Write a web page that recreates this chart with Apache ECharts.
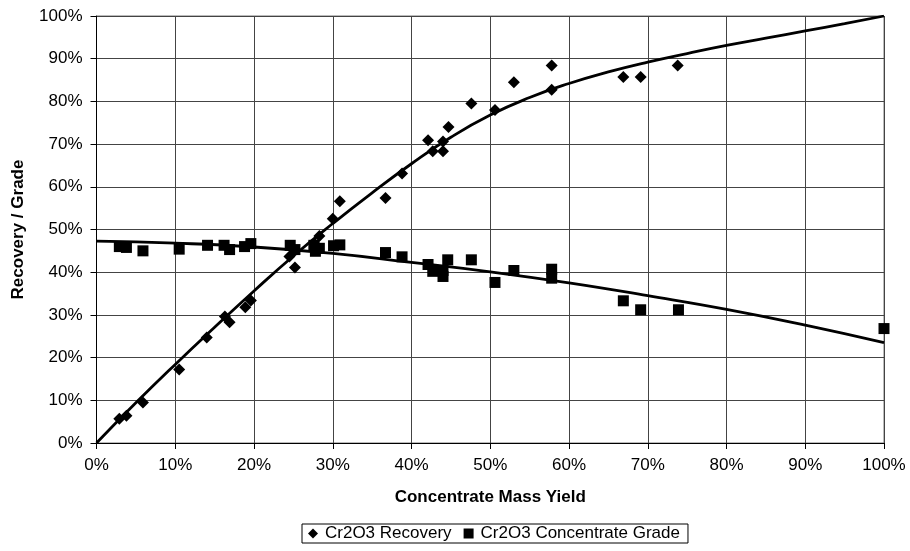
<!DOCTYPE html>
<html>
<head>
<meta charset="utf-8">
<script src="https://cdn.jsdelivr.net/npm/echarts@6/dist/echarts.min.js"></script>
<style>
  html, body { margin: 0; padding: 0; background: #fff; }
  #chart { width: 910px; height: 551px; }
</style>
</head>
<body>
<div id="chart"></div>
<script>
// Cr2O3 recovery samples (mass yield %, recovery %)
const recoveryX = [2.9, 3.8, 5.9, 10.5, 14.0, 16.3, 16.9, 18.9, 19.6, 24.5, 25.2, 27.8, 28.3, 30.0, 30.9,
  36.7, 38.8, 42.1, 42.7, 44.0, 44.0, 44.7, 47.6, 50.6, 53.0, 57.8, 57.8, 66.9, 69.1, 73.8]
const recoveryY = [5.7, 6.4, 9.5, 17.2, 24.7, 29.6, 28.3, 31.8, 33.4, 43.7, 41.1, 46.5, 48.5, 52.5, 56.6,
  57.4, 63.1, 70.9, 68.3, 70.6, 68.3, 74.0, 79.5, 78.0, 84.5, 88.4, 82.7, 85.7, 85.7, 88.4]

// Cr2O3 concentrate grade samples (mass yield %, grade %)
const gradeX = [2.9, 3.8, 5.9, 10.5, 14.1, 16.2, 16.9, 18.8, 19.6, 24.6, 25.2, 27.6, 27.8, 28.3, 30.1, 30.9,
  36.7, 38.8, 42.1, 42.7, 44.0, 44.0, 44.6, 47.6, 50.6, 53.0, 57.8, 57.8, 66.9, 69.1, 73.9, 100]
const gradeY = [46.0, 45.8, 45.0, 45.4, 46.3, 46.3, 45.3, 46.0, 46.7, 46.3, 45.3, 46.3, 44.9, 45.6, 46.2, 46.4,
  44.6, 43.6, 41.8, 40.2, 39.0, 40.4, 42.9, 42.9, 37.6, 40.4, 40.7, 38.6, 33.3, 31.2, 31.2, 26.8]

// trend lines
const recTrendX = [0, 5, 10, 15, 20, 25, 30, 35, 40, 45, 50, 55, 60, 65, 70, 75, 80, 85, 90, 95, 100]
const recTrendY = [0, 9.4, 18.4, 27.1, 35.6, 43.8, 51.4, 58.6, 65.4, 71.6, 76.8, 80.9, 84.2, 86.9, 89.2, 91.2, 93.1, 94.8, 96.5, 98.2, 100]
const gradeTrendX = [0, 10, 20, 30, 40, 50, 60, 70, 80, 90, 100]
const gradeTrendY = [47.3, 46.8, 45.9, 44.4, 42.3, 40.1, 37.5, 34.5, 31.3, 27.6, 23.5]

const xTicks = ['0%', '10%', '20%', '30%', '40%', '50%', '60%', '70%', '80%', '90%', '100%']

function pairs (xs, ys) {
  return xs.map((x, i) => [x, ys[i]])
}

const font = 'Liberation Sans, Arial, sans-serif'
let myChart = echarts.init(document.getElementById('chart'))
myChart.setOption({
  backgroundColor: '#fff',
  animation: false,
  grid: {
    left: 96.5,
    right: 26,
    top: 16,
    bottom: 108,
    show: true,
    borderColor: '#777',
    borderWidth: 1
  },
  legend: {
    data: [
      { name: 'Cr2O3 Recovery', icon: 'diamond' },
      { name: 'Cr2O3 Concentrate Grade', icon: 'rect' }
    ],
    left: 302,
    top: 524,
    itemWidth: 10,
    itemHeight: 10,
    itemGap: 12,
    padding: [1, 8, 1, 6],
    borderColor: '#000',
    borderWidth: 1,
    borderRadius: 0,
    textStyle: { color: '#000', fontSize: 17, fontFamily: font, padding: [0, 0, 0, 2] }
  },
  xAxis: {
    type: 'value',
    min: 0,
    max: 100,
    interval: 10,
    name: 'Concentrate Mass Yield',
    nameLocation: 'middle',
    nameGap: 46,
    nameTextStyle: { color: '#000', fontSize: 17, fontWeight: 'bold', fontFamily: font },
    axisLine: { show: true, onZero: false, lineStyle: { color: '#000', width: 1 } },
    axisTick: { show: true, inside: false, length: 6, lineStyle: { color: '#000' } },
    axisLabel: {
      color: '#000',
      fontSize: 17,
      fontFamily: font,
      margin: 14,
      formatter: (v) => xTicks[Math.round(v / 10)]
    },
    splitLine: { show: true, lineStyle: { color: '#444', width: 1 } }
  },
  yAxis: {
    type: 'value',
    min: 0,
    max: 100,
    interval: 10,
    name: 'Recovery / Grade',
    nameLocation: 'middle',
    nameGap: 70,
    nameTextStyle: { color: '#000', fontSize: 17, fontWeight: 'bold', fontFamily: font },
    axisLine: { show: true, lineStyle: { color: '#000', width: 1 } },
    axisTick: { show: true, inside: false, length: 6, lineStyle: { color: '#000' } },
    axisLabel: {
      color: '#000',
      fontSize: 17,
      fontFamily: font,
      margin: 14,
      formatter: '{value}%'
    },
    splitLine: { show: true, lineStyle: { color: '#444', width: 1 } }
  },
  series: [
    {
      name: 'Cr2O3 Recovery',
      type: 'scatter',
      symbol: 'diamond',
      symbolSize: 12,
      itemStyle: { color: '#000', opacity: 1 },
      data: pairs(recoveryX, recoveryY),
      z: 3
    },
    {
      name: 'Cr2O3 Concentrate Grade',
      type: 'scatter',
      symbol: 'rect',
      symbolSize: 11,
      itemStyle: { color: '#000', opacity: 1 },
      data: pairs(gradeX, gradeY),
      z: 3
    },
    {
      name: 'recTrend',
      type: 'line',
      smooth: true,
      showSymbol: false,
      silent: true,
      lineStyle: { color: '#000', width: 2.8 },
      data: pairs(recTrendX, recTrendY),
      z: 4
    },
    {
      name: 'gradeTrend',
      type: 'line',
      smooth: true,
      showSymbol: false,
      silent: true,
      lineStyle: { color: '#000', width: 2.8 },
      data: pairs(gradeTrendX, gradeTrendY),
      z: 4
    }
  ]
})
</script>
</body>
</html>
